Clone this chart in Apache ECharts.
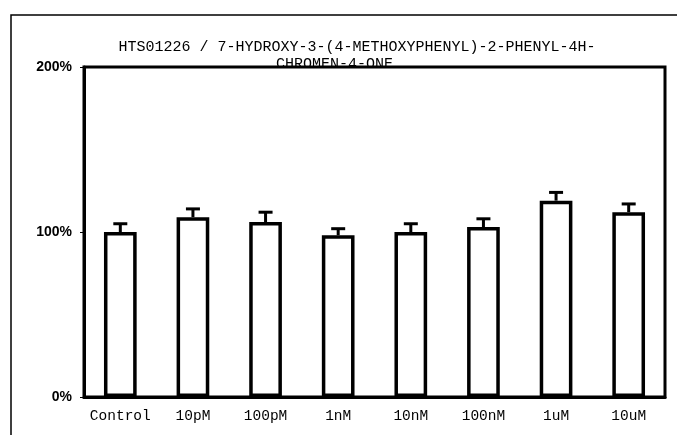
<!DOCTYPE html>
<html><head><meta charset="utf-8">
<script src="https://cdn.jsdelivr.net/npm/echarts@6/dist/echarts.min.js"></script>
<style>html,body{margin:0;padding:0;background:#fff}#c{width:677px;height:435px}</style>
</head><body><div id="c"></div>
<script>
const categories = ['Control','10pM','100pM','1nM','10nM','100nM','1uM','10uM'];
const values = [100, 109, 106, 98, 100, 103, 119, 112];
const errors = [5, 5, 6, 4, 5, 5, 5, 5];
const yTicks = [0, 100, 200];
const titleLines = ['HTS01226 / 7-HYDROXY-3-(4-METHOXYPHENYL)-2-PHENYL-4H-', 'CHROMEN-4-ONE     '];

const chart = echarts.init(document.getElementById('c'));
const mono = '"Liberation Mono", "DejaVu Sans Mono", monospace';
chart.setOption({
  animation: false,
  backgroundColor: '#fff',
  graphic: [{
    type: 'rect', shape: {x: 11, y: 15, width: 680, height: 440},
    style: {fill: 'none', stroke: '#000', lineWidth: 1.5}, z: -1
  }],
  title: {
    text: titleLines.join('\n'),
    left: 352, top: 34, textAlign: 'center',
    textStyle: {fontFamily: mono, fontSize: 15, fontWeight: 'normal', color: '#000', lineHeight: 17}
  },
  grid: {left: 84, right: 12, top: 67, bottom: 38, show: true, borderColor: '#000', borderWidth: 3, backgroundColor: 'transparent'},
  xAxis: {
    type: 'category', data: categories,
    axisLine: {lineStyle: {color: '#000', width: 3}},
    axisTick: {show: false},
    axisLabel: {color: '#000', fontFamily: mono, fontSize: 14.5, margin: 12, interval: 0}
  },
  yAxis: {
    type: 'value', min: 0, max: 200, interval: 100,
    axisLine: {show: true, lineStyle: {color: '#000', width: 3}},
    axisTick: {show: true, length: 4, lineStyle: {color: '#000'}},
    splitLine: {show: false},
    axisLabel: {color: '#000', fontFamily: '"Liberation Sans", Arial, sans-serif', fontSize: 14, fontWeight: 'bold', margin: 12,
      formatter: v => yTicks.includes(v) ? v + '%' : ''}
  },
  series: [{
    type: 'bar', data: values, barWidth: '45%',
    itemStyle: {color: '#fff', borderColor: '#000', borderWidth: 3.5}
  }, {
    type: 'custom',
    data: values.map((v, i) => [i, v, v + errors[i]]),
    renderItem: function (params, api) {
      const x = api.value(0);
      const p0 = api.coord([x, api.value(1)]);
      const p1 = api.coord([x, api.value(2)]);
      const hw = 7;
      return {
        type: 'group',
        children: [
          {type: 'line', shape: {x1: p0[0], y1: p0[1], x2: p1[0], y2: p1[1]}, style: {stroke: '#000', lineWidth: 3}},
          {type: 'line', shape: {x1: p1[0] - hw, y1: p1[1], x2: p1[0] + hw, y2: p1[1]}, style: {stroke: '#000', lineWidth: 3}}
        ]
      };
    },
    z: 3
  }]
});
</script></body></html>
